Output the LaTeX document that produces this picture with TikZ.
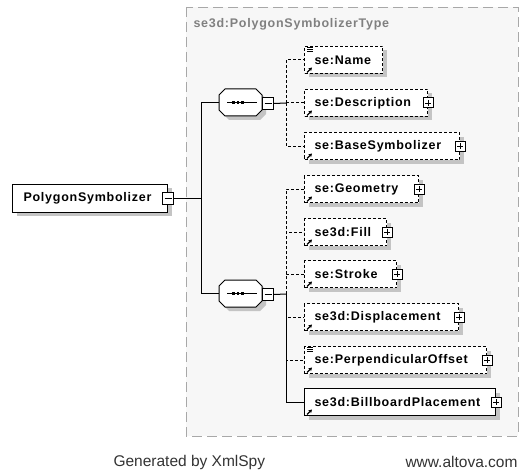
\documentclass[tikz,border=0pt]{standalone}
\usepackage{fontspec}
\newfontfamily\xsfont[LetterSpace=6]{Liberation Sans}
\newfontfamily\ftfont{Liberation Sans}
\usetikzlibrary{arrows.meta,shadows}
\definecolor{boxgray}{HTML}{F7F7F7}
\definecolor{framegray}{HTML}{A8A8A8}
\definecolor{shadegray}{HTML}{C4C4C4}
\definecolor{titlegray}{HTML}{808080}
\tikzset{
  frame/.style={draw=framegray, fill=boxgray, dash pattern=on 10pt off 5pt, line width=0.8pt},
  title/.style={anchor=west, inner sep=0pt, text=titlegray, font=\xsfont\fontsize{12.5}{14}\selectfont\bfseries},
  elem/.style={draw, fill=white, anchor=west, align=left, inner xsep=10pt, inner ysep=0pt,
    minimum height=27pt, font=\xsfont\fontsize{12.5}{14}\selectfont\bfseries,
    drop shadow={shadow xshift=4pt, shadow yshift=-4pt, fill=shadegray, opacity=1}},
  opt/.style={elem, dash pattern=on 3pt off 2pt},
  seq/.style={minimum width=43pt, minimum height=27pt, inner sep=0pt},
  minusbox/.style={draw, fill=white, minimum width=11pt, minimum height=12pt, inner sep=0pt,
    path picture={\draw[line width=0.9pt] ([xshift=2pt]path picture bounding box.west) -- ([xshift=-2pt]path picture bounding box.east);}},
  plusbox/.style={draw, fill=white, minimum size=10pt, inner sep=0pt,
    path picture={\draw[line width=0.9pt] ([xshift=2pt]path picture bounding box.west) -- ([xshift=-2pt]path picture bounding box.east);
      \draw[line width=0.9pt] ([yshift=-2pt]path picture bounding box.north) -- ([yshift=2pt]path picture bounding box.south);}},
  link/.style={dash pattern=on 3pt off 2pt},
  ref/.style={-{Stealth[length=3.5pt,width=4pt]}, line width=1.2pt},
  foot/.style={inner sep=0pt, text=black!80, font=\ftfont\fontsize{15.5}{18}\selectfont}
}
\begin{document}
\begin{tikzpicture}[x=1pt, y=-1pt, line width=1pt]
  \useasboundingbox (0,0) rectangle (519,476);
  \draw[frame] (186,7) rectangle (518,436);
  \node[title] (type) at (193,24) {se3d:PolygonSymbolizerType};

  \node[elem, text width=133pt, inner xsep=11pt, minimum height=28pt] (root) at (12,198) {PolygonSymbolizer};
  \node[minusbox] (rootm) at (root.east) {};

  \foreach \cy in {102.5,293.5} {
    \fill[shadegray, shift={(4,4)}] (225,\cy-13.5) -- (256,\cy-13.5) -- (262,\cy-7.5) -- (262,\cy+7.5)
      -- (256,\cy+13.5) -- (225,\cy+13.5) -- (219,\cy+7.5) -- (219,\cy-7.5) -- cycle;
    \draw[fill=white] (225,\cy-13.5) -- (256,\cy-13.5) -- (262,\cy-7.5) -- (262,\cy+7.5)
      -- (256,\cy+13.5) -- (225,\cy+13.5) -- (219,\cy+7.5) -- (219,\cy-7.5) -- cycle;
    \draw (227,\cy) -- (257,\cy);
    \foreach \d in {-4.5,0,4.5}
      \fill (238+\d-1.4,\cy-1.4) rectangle ++(2.8,2.8);
  }
  \node[seq] (seqA) at (240.5,102.5) {};
  \node[minusbox] (seqAm) at (268,103.5) {};
  \node[seq] (seqB) at (240.5,293.5) {};
  \node[minusbox] (seqBm) at (268,294.5) {};

  \node[opt, text width=58pt] (name) at (304,60) {se:Name};
  \node[opt, text width=103pt] (desc) at (304,103) {se:Description};
  \node[opt, text width=135pt] (base) at (304,146) {se:BaseSymbolizer};
  \node[opt, text width=94pt] (geom) at (304,189) {se:Geometry};
  \node[opt, text width=62pt] (fill) at (304,232) {se3d:Fill};
  \node[opt, text width=72pt] (stroke) at (304,274) {se:Stroke};
  \node[opt, text width=134pt] (disp) at (304,317) {se3d:Displacement};
  \node[opt, text width=162pt] (perp) at (304,360) {se:PerpendicularOffset};
  \node[elem, text width=171pt] (bill) at (304,402) {se3d:BillboardPlacement};

  \foreach \n in {desc,base,geom,fill,stroke,disp,perp,bill}
    \node[plusbox] (\n-plus) at (\n.east) {};
  \foreach \n in {name,desc,base,geom,fill,stroke,disp,perp,bill}
    \draw[ref] ([shift={(3pt,1.5pt)}]\n.south west) -- ([shift={(8pt,6.5pt)}]\n.south west);
  \foreach \n in {name,perp}
    \foreach \k in {1.5,3.5,5.5}
      \draw[line width=0.7pt] ([shift={(3pt,-\k pt)}]\n.north west) -- ([shift={(9pt,-\k pt)}]\n.north west);

  \coordinate (hub) at (201,198);
  \draw (rootm.east) -- (hub);
  \draw (hub) |- (seqA.west);
  \draw (hub) |- (seqB.west);
  \coordinate (forkA) at (286,103);
  \draw (seqAm.east) -- (forkA);
  \foreach \n in {name,desc,base}
    \draw[link] (forkA) |- (\n.west);
  \coordinate (forkB) at (286,294);
  \draw (seqBm.east) -- (forkB);
  \foreach \n in {geom,fill,stroke,disp,perp}
    \draw[link] (forkB) |- (\n.west);
  \draw (forkB) |- (bill.west);

  \node[foot, anchor=west] (gen) at (113,462) {Generated by XmlSpy};
  \node[foot, anchor=east] (web) at (518,462) {www.altova.com};
\end{tikzpicture}
\end{document}
